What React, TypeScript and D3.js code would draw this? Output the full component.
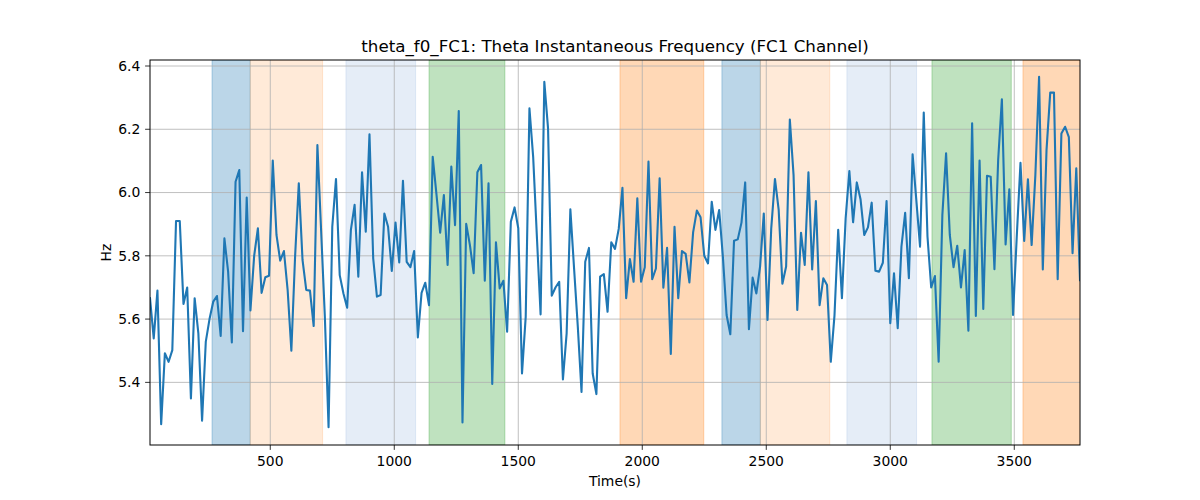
import * as d3 from "d3";

// instantaneous theta frequency (Hz), one sample every 15 s
const freqHz: number[] = [
  5.666, 5.539, 5.69, 5.268, 5.492, 5.465, 5.502, 5.91, 5.91, 5.648,
  5.7, 5.349, 5.666, 5.555, 5.279, 5.529, 5.6, 5.655, 5.673, 5.547,
  5.855, 5.75, 5.526, 6.034, 6.071, 5.562, 5.984, 5.627, 5.8, 5.887,
  5.683, 5.732, 5.737, 6.101, 5.866, 5.785, 5.815, 5.692, 5.5, 5.797,
  6.029, 5.787, 5.692, 5.69, 5.578, 6.15, 5.88, 5.608, 5.258, 5.892,
  6.043, 5.739,
  5.681, 5.636, 5.882, 5.961, 5.734, 6.064, 5.876, 6.184, 5.792, 5.671,
  5.676, 5.934, 5.892, 5.752, 5.905, 5.779, 6.037, 5.781, 5.764, 5.815,
  5.542, 5.683, 5.715, 5.644, 6.113, 5.995, 5.873, 5.992, 5.771, 6.082,
  5.897, 6.258, 5.273, 5.901, 5.834, 5.745, 6.064, 6.087, 5.721, 6.029,
  5.395, 5.843, 5.697, 5.721, 5.56, 5.908, 5.953, 5.887, 5.428, 5.608,
  6.266,
  6.113, 5.861, 5.615, 6.35, 6.203, 5.674, 5.7, 5.718, 5.409, 5.555,
  5.947, 5.76, 5.576, 5.37, 5.781, 5.825, 5.428, 5.363, 5.734, 5.742,
  5.623, 5.843, 5.822, 5.885, 6.015, 5.666, 5.79, 5.718, 5.982, 5.718,
  5.764, 6.098, 5.726, 5.76, 6.045, 5.699, 5.825, 5.49, 5.892, 5.666,
  5.815, 5.806, 5.716, 5.874, 5.943, 5.922, 5.8, 5.776, 5.971, 5.882,
  5.945,
  5.797, 5.613, 5.552, 5.848, 5.852, 5.905, 6.032, 5.568, 5.731, 5.681,
  5.766, 5.934, 5.597, 5.887, 6.043, 5.945, 5.712, 5.766, 6.231, 6.055,
  5.629, 5.873, 5.771, 6.064, 5.757, 5.973, 5.644, 5.729, 5.708, 5.465,
  5.611, 5.882, 5.666, 5.918, 6.068, 5.906, 6.032, 5.979, 5.866, 5.89,
  5.968, 5.753, 5.75, 5.778, 5.973, 5.587, 5.745, 5.571, 5.829, 5.936,
  5.729,
  6.121, 5.976, 5.829, 6.253, 5.861, 5.7, 5.736, 5.465, 5.929, 6.124,
  5.866, 5.764, 5.832, 5.7, 5.818, 5.563, 6.219, 5.61, 6.101, 5.632,
  6.053, 6.05, 5.758, 6.103, 6.295, 5.836, 6.01, 5.613, 5.861, 6.094,
  5.847, 6.042, 5.834, 6.055, 6.366, 5.757, 6.134, 6.316, 6.316, 5.726,
  6.187, 6.208, 6.175, 5.808, 6.077, 5.723,
];
const sampleStep = 15;

// shaded epochs
const epochStart: number[] = [265, 419, 805, 1140, 1910, 2321, 2476, 2825, 3168, 3535];
const epochEnd: number[] = [419, 711, 1086, 1446, 2248, 2476, 2756, 3106, 3488, 3800];
const epochKind: string[] = ["a", "b", "c", "d", "e", "a", "b", "c", "d", "e"];

const xTicks: number[] = [500, 1000, 1500, 2000, 2500, 3000, 3500];
const yTicks: number[] = [5.4, 5.6, 5.8, 6.0, 6.2, 6.4];

const kindColor: Record<string, { c: string; a: number }> = {
  a: { c: "#1f77b4", a: 0.3 },
  b: { c: "#ff7f0e", a: 0.16 },
  c: { c: "#7ea3d6", a: 0.2 },
  d: { c: "#2ca02c", a: 0.3 },
  e: { c: "#ff7f0e", a: 0.3 },
};

export default function App() {
  const width = 1200;
  const height = 500;
  const margin = { top: 60, right: 120, bottom: 55, left: 150 };
  const font = "DejaVu Sans, sans-serif";

  const points = freqHz.map((v, i) => ({ t: (i + 1) * sampleStep, v }));

  const x = d3
    .scaleLinear()
    .domain([15, 3765])
    .range([margin.left, width - margin.right]);
  const y = d3
    .scaleLinear()
    .domain([5.202, 6.419])
    .range([height - margin.bottom, margin.top]);

  const line = d3
    .line<{ t: number; v: number }>()
    .x((d) => x(d.t))
    .y((d) => y(d.v));

  const x0 = margin.left;
  const x1 = width - margin.right;
  const y0 = height - margin.bottom;
  const y1 = margin.top;

  return (
    <svg
      width={width}
      height={height}
      style={{ position: "absolute", left: 0, top: 0, background: "#fff" }}
      fontFamily={font}
    >
      <defs>
        <clipPath id="plot">
          <rect x={x0} y={y1} width={x1 - x0} height={y0 - y1} />
        </clipPath>
      </defs>

      <g clipPath="url(#plot)">
        {epochStart.map((s, i) => {
          const k = kindColor[epochKind[i]];
          return (
            <rect
              key={i}
              x={x(s)}
              y={y1}
              width={x(epochEnd[i]) - x(s)}
              height={y0 - y1}
              fill={k.c}
              fillOpacity={k.a}
              stroke={k.c}
              strokeOpacity={k.a}
              strokeWidth={1}
            />
          );
        })}
      </g>

      {/* grid */}
      {xTicks.map((t) => (
        <line key={"gx" + t} x1={x(t)} x2={x(t)} y1={y1} y2={y0} stroke="#b0b0b0" strokeWidth={0.8} />
      ))}
      {yTicks.map((t) => (
        <line key={"gy" + t} x1={x0} x2={x1} y1={y(t)} y2={y(t)} stroke="#b0b0b0" strokeWidth={0.8} />
      ))}

      <path
        d={line(points) ?? ""}
        fill="none"
        stroke="#1f77b4"
        strokeWidth={2.1}
        strokeLinejoin="round"
        strokeLinecap="square"
        clipPath="url(#plot)"
      />

      {/* frame */}
      <rect x={x0} y={y1} width={x1 - x0} height={y0 - y1} fill="none" stroke="#000" strokeWidth={1} />

      {/* x axis */}
      {xTicks.map((t) => (
        <g key={"xt" + t}>
          <line x1={x(t)} x2={x(t)} y1={y0} y2={y0 + 4.9} stroke="#000" strokeWidth={0.8} />
          <text x={x(t)} y={466} textAnchor="middle" fontSize={13.9} fill="#000">
            {t}
          </text>
        </g>
      ))}
      {/* y axis */}
      {yTicks.map((t) => (
        <g key={"yt" + t}>
          <line x1={x0 - 4.9} x2={x0} y1={y(t)} y2={y(t)} stroke="#000" strokeWidth={0.8} />
          <text x={x0 - 9.7} y={y(t)} dy="0.35em" textAnchor="end" fontSize={13.9} fill="#000">
            {d3.format(".1f")(t)}
          </text>
        </g>
      ))}

      <text x={(x0 + x1) / 2} y={485.5} textAnchor="middle" fontSize={13.9} fill="#000">
        Time(s)
      </text>
      <text
        transform={`translate(110.5, ${(y0 + y1) / 2}) rotate(-90)`}
        textAnchor="middle"
        fontSize={13.9}
        fill="#000"
      >
        Hz
      </text>
      <text x={(x0 + x1) / 2} y={51.7} textAnchor="middle" fontSize={16.7} fill="#000">
        theta_f0_FC1: Theta Instantaneous Frequency (FC1 Channel)
      </text>
    </svg>
  );
}
